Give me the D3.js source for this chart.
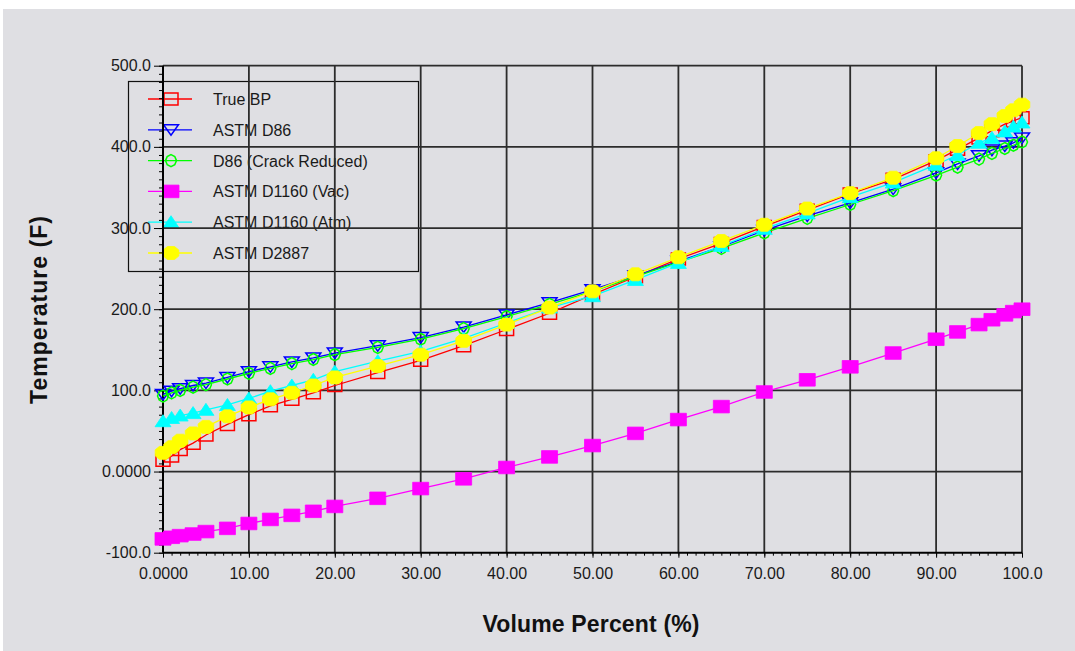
<!DOCTYPE html>
<html>
<head>
<meta charset="utf-8">
<script src="https://cdn.jsdelivr.net/npm/d3@7"></script>
<style>
  body { margin: 0; background: #ffffff; }
  svg { display: block; }
  text { font-family: "Liberation Sans", Arial, Helvetica, sans-serif; }
</style>
</head>
<body>
<svg id="chart" width="1075" height="651"></svg>
<script>
// Distillation curves: temperature (F) against liquid volume percent distilled
const volumePercent = [0, 1, 2, 3.5, 5, 7.5, 10, 12.5, 15, 17.5, 20, 25, 30, 35, 40, 45, 50,
                       55, 60, 65, 70, 75, 80, 85, 90, 92.5, 95, 96.5, 98, 99, 100];

const trueBP      = [14, 19, 27, 35, 45, 58, 70, 81, 89, 97, 106, 122, 137, 155, 175, 195, 218,
                     240, 262, 281, 302, 322, 342, 360, 383, 397, 411, 420, 428, 432, 436];
const astmD86     = [95, 99, 102, 106, 109, 116, 123, 129, 135, 140, 146, 155, 165, 178, 193, 208, 224,
                     241, 259, 277, 297, 315, 331, 348, 368, 379, 389, 396, 401, 405, 411];
const d86Cracked  = [93, 97, 100, 104, 107, 114, 121, 127, 133, 138, 144, 153, 163, 176, 191, 206, 222,
                     240, 258, 275, 294, 312, 329, 346, 365, 375, 385, 392, 398, 402, 406];
const d1160Vac    = [-83, -81, -79, -77, -74, -70, -64, -59, -54, -49, -43, -33, -21, -9, 5, 18, 32,
                     47, 64, 80, 98, 113, 129, 146, 163, 172, 181, 187, 193, 197, 200];
const d1160Atm    = [62, 66, 69, 72, 76, 82, 90, 99, 106, 113, 123, 136, 148, 164, 183, 202, 216,
                     236, 257, 278, 299, 318, 338, 356, 378, 390, 405, 411, 419, 425, 430];
const d2887       = [23, 30, 38, 47, 55, 68, 79, 89, 97, 106, 116, 130, 144, 161, 181, 202, 222,
                     243, 264, 284, 304, 324, 343, 362, 386, 401, 417, 428, 438, 445, 452];

const seriesNames  = ["True BP", "ASTM D86", "D86 (Crack Reduced)", "ASTM D1160 (Vac)", "ASTM D1160 (Atm)", "ASTM D2887"];
const seriesValues = [trueBP, astmD86, d86Cracked, d1160Vac, d1160Atm, d2887];
const seriesColors = ["#ff0000", "#0000ff", "#00ff00", "#ff00ff", "#00ffff", "#ffff00"];
const seriesMarker = ["squareOpen", "triDownOpen", "diamondOpen", "squareFill", "triUpFill", "dotFill"];

const xTickValues = [0, 10, 20, 30, 40, 50, 60, 70, 80, 90, 100];
const xTickLabels = ["0.0000", "10.00", "20.00", "30.00", "40.00", "50.00", "60.00", "70.00", "80.00", "90.00", "100.0"];
const yTickValues = [-100, 0, 100, 200, 300, 400, 500];
const yTickLabels = ["-100.0", "0.0000", "100.0", "200.0", "300.0", "400.0", "500.0"];

const xTitle = "Volume Percent (%)";
const yTitle = "Temperature (F)";

// ---- layout ----
const W = 1075, H = 651;
const plot = { left: 163, right: 1022, top: 65.7, bottom: 552.7 };
const svg = d3.select("#chart");

svg.append("rect").attr("width", W).attr("height", H).attr("fill", "#ffffff");
svg.append("rect").attr("x", 3).attr("y", 9).attr("width", W - 3).attr("height", H - 9).attr("fill", "#dfdfe3");

const x = d3.scaleLinear().domain([0, 100]).range([plot.left, plot.right]);
const y = d3.scaleLinear().domain([-100, 500]).range([plot.bottom, plot.top]);

// marker glyphs (slightly wider than tall)
function markerPath(kind) {
  switch (kind) {
    case "squareOpen":  return "M-7,-6H7V6H-7Z";
    case "squareFill":  return "M-8,-6.3H8V6.3H-8Z";
    case "triDownOpen": return "M-7.5,-5H7.5L0,5.5Z";
    case "triUpFill":   return "M0,-6.5L8,5.5H-8Z";
    case "diamondOpen": return "M0,-6L3.8,-4L5.5,0L3.8,4L0,6L-3.8,4L-5.5,0L-3.8,-4Z";
    case "dotFill":     return "M-3.5,-6.5H3.5L7.8,-3V3L3.5,6.5H-3.5L-7.8,3V-3Z";
  }
}
function isOpen(kind) { return kind.endsWith("Open"); }

function drawMarker(g, kind, color) {
  g.append("path")
    .attr("d", markerPath(kind))
    .attr("fill", isOpen(kind) ? "none" : color)
    .attr("stroke", color)
    .attr("stroke-width", isOpen(kind) ? 1.5 : 0.8);
}

// ---- legend (transparent box, grid shows through) ----
const legend = svg.append("g");
legend.append("rect")
  .attr("x", 128.5).attr("y", 81.5).attr("width", 290).attr("height", 190)
  .attr("fill", "none").attr("stroke", "#111").attr("stroke-width", 1.2);

const legendRow = d3.scalePoint().domain(d3.range(seriesNames.length)).range([99, 253]);
seriesNames.forEach((name, i) => {
  const ry = legendRow(i);
  legend.append("line")
    .attr("x1", 148).attr("x2", 192).attr("y1", ry).attr("y2", ry)
    .attr("stroke", seriesColors[i]).attr("stroke-width", 1.3);
  const mg = legend.append("g").attr("transform", `translate(171,${ry})`);
  drawMarker(mg, seriesMarker[i], seriesColors[i]);
  legend.append("text")
    .attr("x", 213).attr("y", ry + 6)
    .attr("font-size", 16).attr("fill", "#1a1a1a")
    .text(name);
});

// ---- grid ----
const grid = svg.append("g").attr("stroke", "#2c2c2c").attr("stroke-width", 1.8);
grid.selectAll("line.v").data(xTickValues.filter(v => v > 0)).join("line")
  .attr("x1", d => x(d)).attr("x2", d => x(d))
  .attr("y1", plot.top).attr("y2", plot.bottom);
grid.selectAll("line.h").data(yTickValues.filter(v => v > -100)).join("line")
  .attr("y1", d => y(d)).attr("y2", d => y(d))
  .attr("x1", plot.left).attr("x2", plot.right);

// ---- axes ----
function styleAxis(g) {
  g.select(".domain").remove();
  g.selectAll("line").attr("stroke", "#000").attr("stroke-width", 1);
  g.selectAll("text").attr("font-size", 16).attr("fill", "#1a1a1a")
    .attr("font-family", "\"Liberation Sans\", Arial, sans-serif");
}

// x axis: minor ticks every 1%, labelled majors every 10%
svg.append("g").attr("transform", `translate(0,${plot.bottom})`)
  .call(d3.axisBottom(x).tickValues(d3.range(0, 101, 1)).tickSize(3).tickFormat(""))
  .call(styleAxis);
svg.append("g").attr("transform", `translate(0,${plot.bottom})`)
  .call(d3.axisBottom(x).tickValues(xTickValues).tickSize(5).tickPadding(10)
        .tickFormat((d, i) => xTickLabels[i]))
  .call(styleAxis);

// y axis: minor ticks every 10 F, labelled majors every 100 F
svg.append("g").attr("transform", `translate(${plot.left},0)`)
  .call(d3.axisLeft(y).tickValues(d3.range(-100, 501, 10)).tickSize(4).tickFormat(""))
  .call(styleAxis);
svg.append("g").attr("transform", `translate(${plot.left},0)`)
  .call(d3.axisLeft(y).tickValues(yTickValues).tickSize(9).tickPadding(3)
        .tickFormat((d, i) => yTickLabels[i]))
  .call(styleAxis);

// axis lines
svg.append("line").attr("x1", plot.left).attr("x2", plot.right)
  .attr("y1", plot.bottom).attr("y2", plot.bottom).attr("stroke", "#000").attr("stroke-width", 2);
svg.append("line").attr("x1", plot.left).attr("x2", plot.left)
  .attr("y1", plot.top).attr("y2", plot.bottom).attr("stroke", "#000").attr("stroke-width", 2);

// ---- series ----
const lineGen = d3.line().x(d => x(d[0])).y(d => y(d[1]));
seriesValues.forEach((vals, i) => {
  const pts = volumePercent.map((v, j) => [v, vals[j]]);
  const g = svg.append("g");
  g.append("path").datum(pts)
    .attr("d", lineGen).attr("fill", "none")
    .attr("stroke", seriesColors[i]).attr("stroke-width", 1.3);
  pts.forEach(p => {
    const mg = g.append("g").attr("transform", `translate(${x(p[0])},${y(p[1])})`);
    drawMarker(mg, seriesMarker[i], seriesColors[i]);
  });
});

// ---- titles ----
svg.append("text")
  .attr("x", 591).attr("y", 632)
  .attr("text-anchor", "middle").attr("font-size", 23).attr("font-weight", "bold")
  .attr("textLength", 217).attr("lengthAdjust", "spacing")
  .attr("fill", "#111").text(xTitle);
svg.append("text")
  .attr("transform", "translate(47,310) rotate(-90)")
  .attr("text-anchor", "middle").attr("font-size", 23).attr("font-weight", "bold")
  .attr("textLength", 188).attr("lengthAdjust", "spacing")
  .attr("fill", "#111").text(yTitle);
</script>
</body>
</html>
